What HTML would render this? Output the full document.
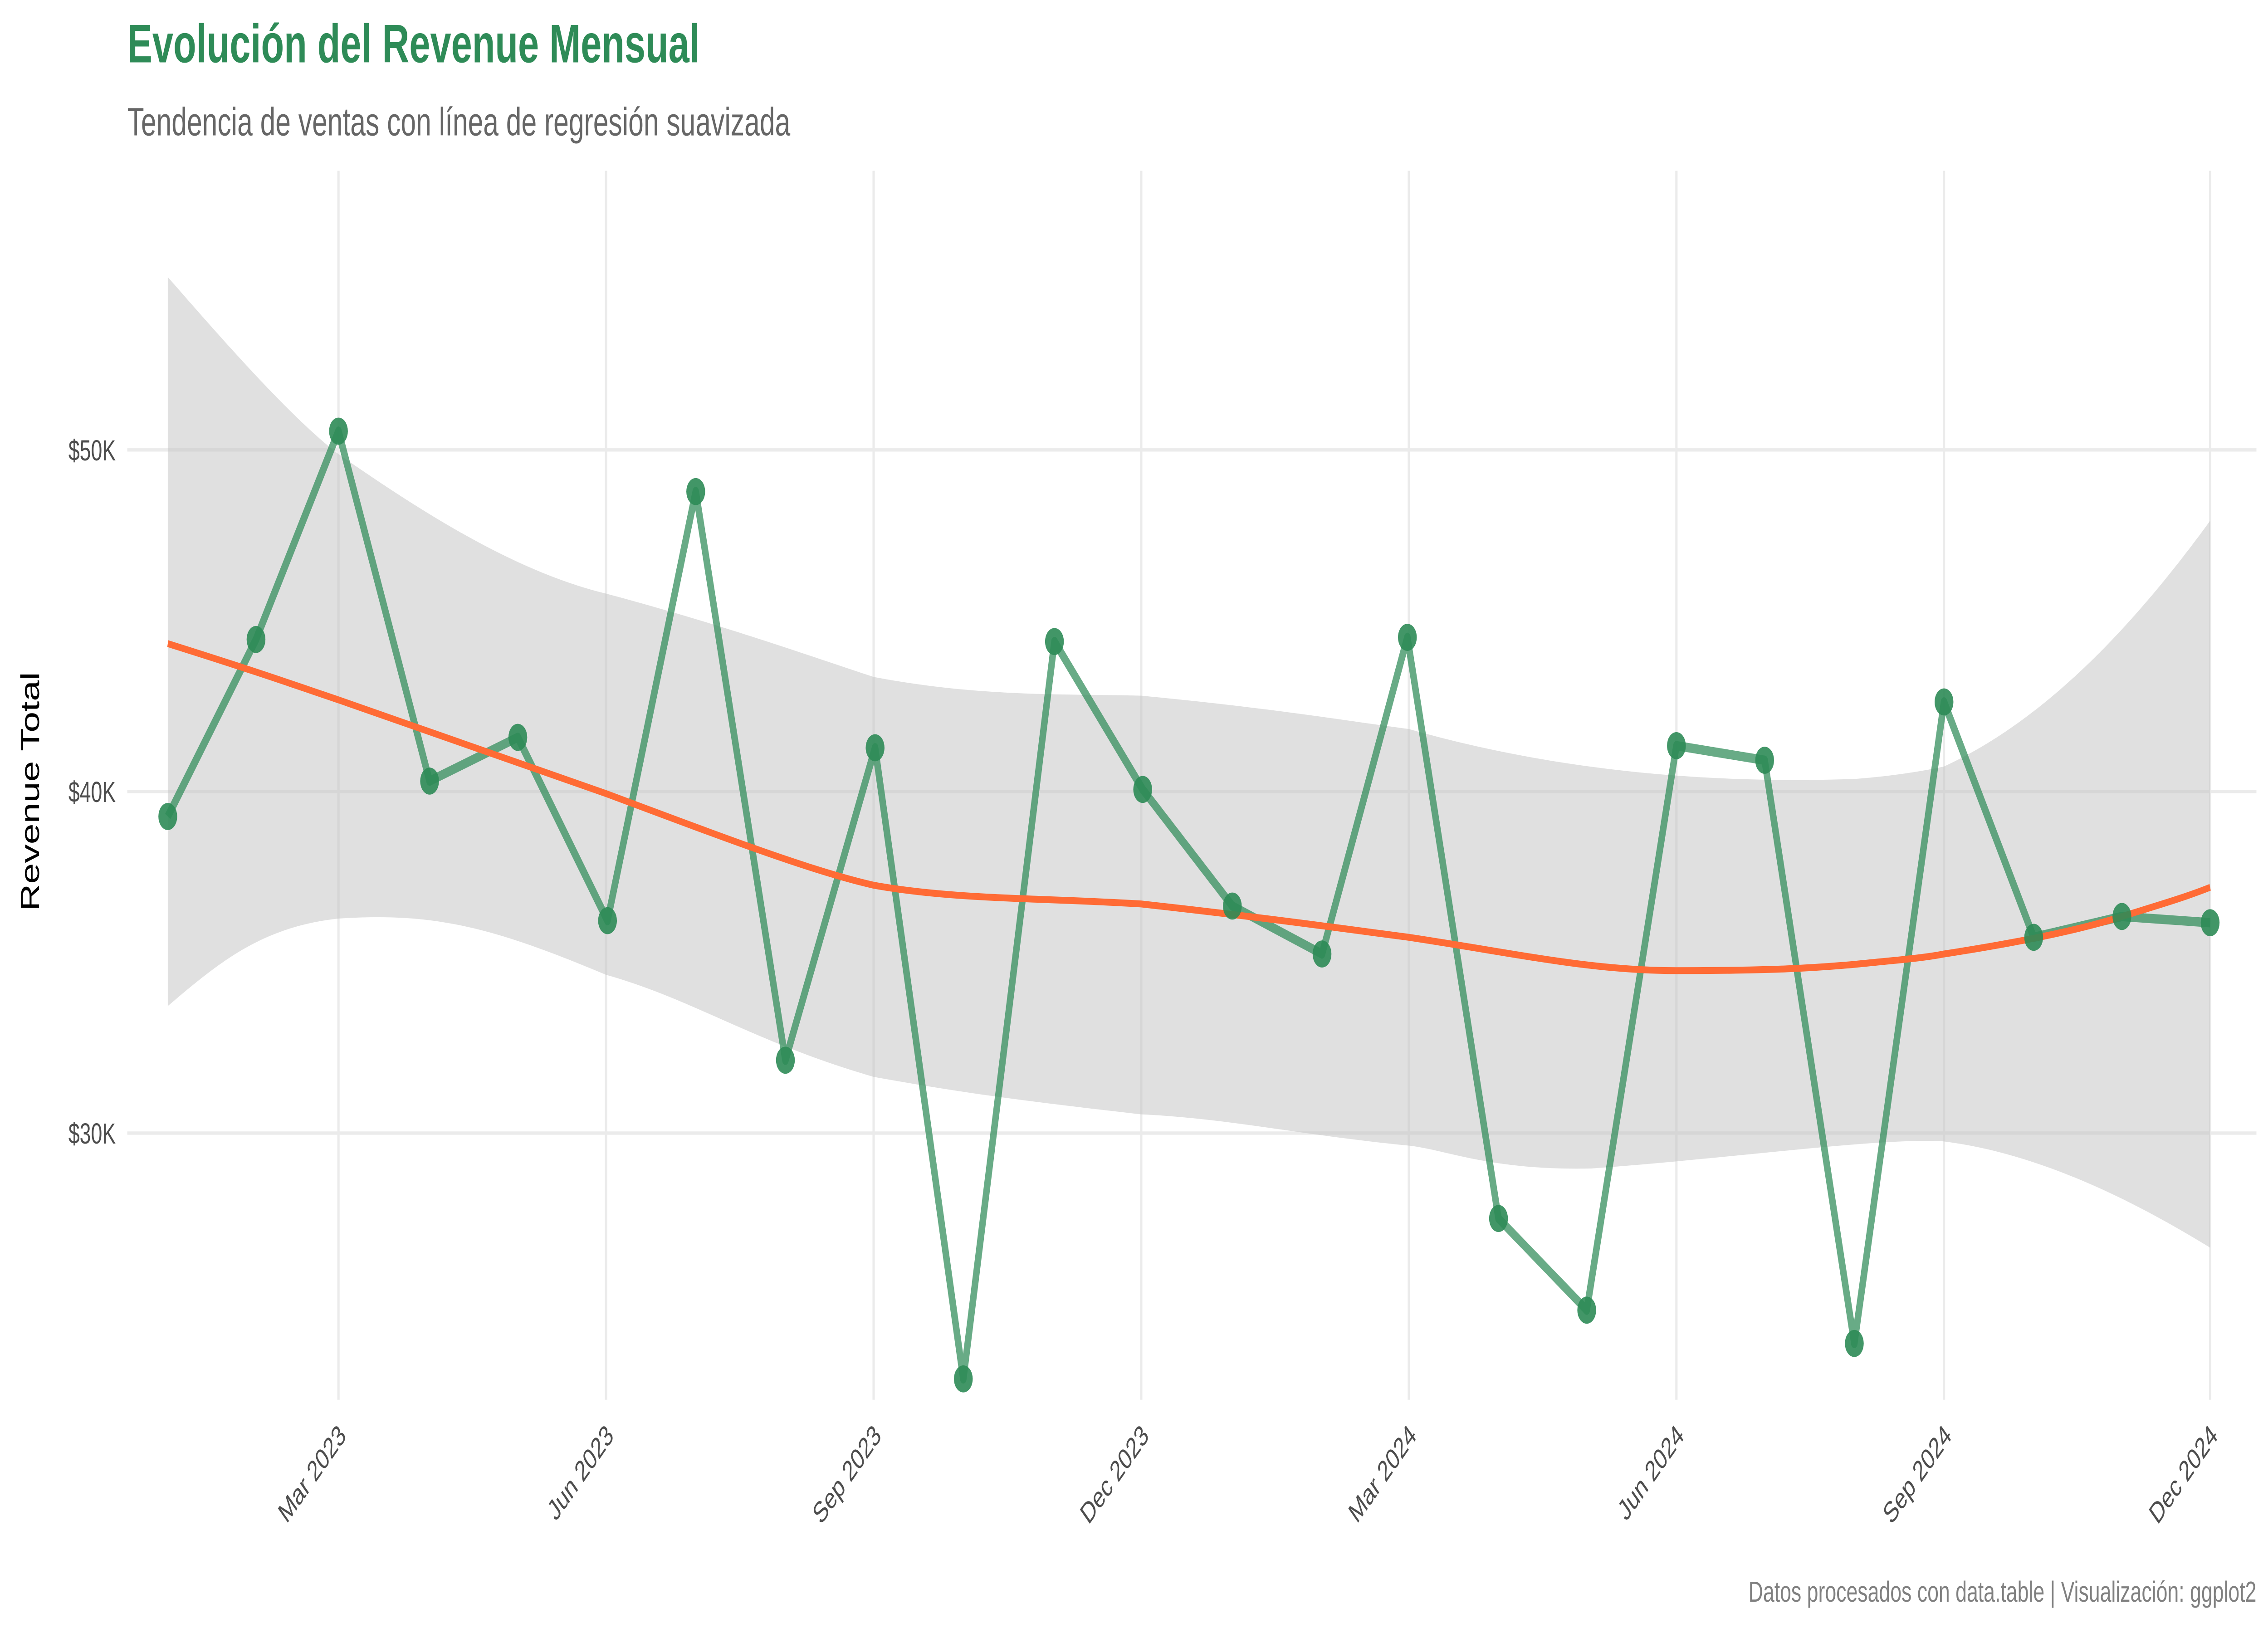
<!DOCTYPE html>
<html><head><meta charset="utf-8"><style>html,body{margin:0;padding:0;background:#fff;width:100%;height:100%;overflow:hidden}svg{display:block;width:100vw;height:100vh}</style></head>
<body>
<svg viewBox="0 0 1568 784" preserveAspectRatio="none" xmlns="http://www.w3.org/2000/svg" font-family="Liberation Sans, sans-serif">
<rect width="1568" height="784" fill="#fff"/>
<text x="88" y="30" font-size="26" font-weight="bold" fill="#2E8B57">Evolución del Revenue Mensual</text>
<text x="88" y="65" font-size="19" fill="#666">Tendencia de ventas con línea de regresión suavizada</text>
<g stroke="#EBEBEB" stroke-width="1.6">
<line x1="88" x2="1560" y1="216" y2="216"/><line x1="88" x2="1560" y1="380" y2="380"/><line x1="88" x2="1560" y1="544" y2="544"/>
<line x1="234" x2="234" y1="82" y2="672"/><line x1="419" x2="419" y1="82" y2="672"/><line x1="604" x2="604" y1="82" y2="672"/><line x1="789" x2="789" y1="82" y2="672"/><line x1="974" x2="974" y1="82" y2="672"/><line x1="1159" x2="1159" y1="82" y2="672"/><line x1="1344" x2="1344" y1="82" y2="672"/><line x1="1528" x2="1528" y1="82" y2="672"/>
</g>
<path fill="#BEBEBE" fill-opacity="0.48" d="M116,133 C150,160 200,200 234,218 C300,250 360,275 419,285 C500,300 560,315 604,325 C680,335 740,333 789,334 C880,340 930,346 974,350 C1050,365 1150,377 1282,374 C1320,372 1344,368 1344,368 C1400,350 1460,315 1528,250 L1528,599 C1460,570 1400,553 1344,548 C1300,546 1200,556 1100,561 C1030,562 1000,552 974,550 C900,545 850,537 789,535 C700,528 660,524 604,517 C520,500 480,480 419,468 C340,445 300,438 234,441 C180,445 150,463 116,483 Z"/>
<polyline fill="none" stroke="#2E8B57" stroke-opacity="0.72" stroke-width="4.5" stroke-linejoin="round" points="116,392 177,307 234,207 297,375 358,354 420,442 481,236 543,509 605,359 666,662 729,308 790,379 852,435 914,458 973,306 1036,585 1097,629 1159,358 1220,365 1282,645 1344,337 1406,450 1467,440 1528,443"/>
<path fill="none" stroke="#FF6B35" stroke-width="3.3" d="M116,309 C180,323 200,328 234,336 C300,352 360,367 419,381 C500,402 560,418 604,425 C660,432 720,431 789,434 C880,441 930,446 974,450 C1050,458 1100,466 1159,466 C1220,466 1250,465 1282,463 C1310,461 1330,460 1344,458 C1400,452 1440,446 1467,440 C1490,435 1510,431 1528,426"/>
<g fill="#2E8B57" fill-opacity="0.9">
<circle cx="116" cy="392" r="6.5"/><circle cx="177" cy="307" r="6.5"/><circle cx="234" cy="207" r="6.5"/><circle cx="297" cy="375" r="6.5"/><circle cx="358" cy="354" r="6.5"/><circle cx="420" cy="442" r="6.5"/><circle cx="481" cy="236" r="6.5"/><circle cx="543" cy="509" r="6.5"/><circle cx="605" cy="359" r="6.5"/><circle cx="666" cy="662" r="6.5"/><circle cx="729" cy="308" r="6.5"/><circle cx="790" cy="379" r="6.5"/><circle cx="852" cy="435" r="6.5"/><circle cx="914" cy="458" r="6.5"/><circle cx="973" cy="306" r="6.5"/><circle cx="1036" cy="585" r="6.5"/><circle cx="1097" cy="629" r="6.5"/><circle cx="1159" cy="358" r="6.5"/><circle cx="1220" cy="365" r="6.5"/><circle cx="1282" cy="645" r="6.5"/><circle cx="1344" cy="337" r="6.5"/><circle cx="1406" cy="450" r="6.5"/><circle cx="1467" cy="440" r="6.5"/><circle cx="1528" cy="443" r="6.5"/>
</g>
<g font-size="14" fill="#4D4D4D" text-anchor="end">
<text x="80" y="221">$50K</text><text x="80" y="385">$40K</text><text x="80" y="549">$30K</text>
</g>
<text transform="translate(27,380) rotate(-90)" font-size="18" fill="#000" text-anchor="middle">Revenue Total</text>
<g font-size="14" fill="#4D4D4D" text-anchor="end">
<text transform="translate(240,690) rotate(-45)">Mar 2023</text>
<text transform="translate(425,690) rotate(-45)">Jun 2023</text>
<text transform="translate(610,690) rotate(-45)">Sep 2023</text>
<text transform="translate(795,690) rotate(-45)">Dec 2023</text>
<text transform="translate(980,690) rotate(-45)">Mar 2024</text>
<text transform="translate(1165,690) rotate(-45)">Jun 2024</text>
<text transform="translate(1350,690) rotate(-45)">Sep 2024</text>
<text transform="translate(1534,690) rotate(-45)">Dec 2024</text>
</g>
<text x="1560" y="769" font-size="14" fill="#808080" text-anchor="end">Datos procesados con data.table | Visualización: ggplot2</text>
</svg>
</body></html>
